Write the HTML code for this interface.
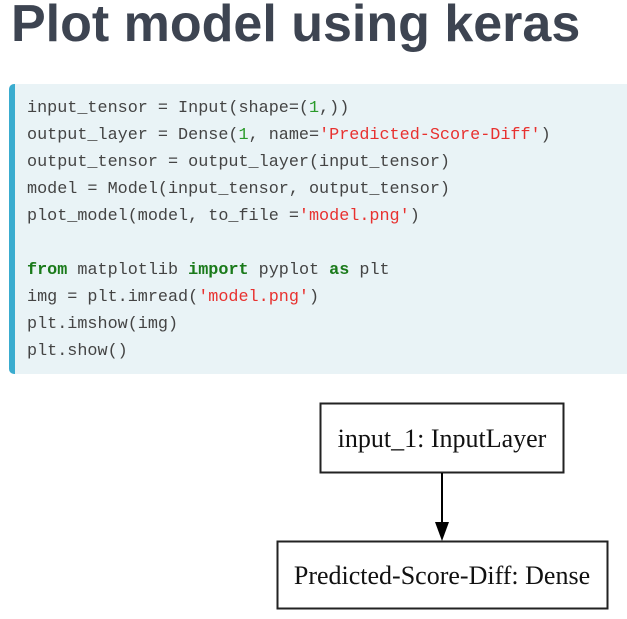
<!DOCTYPE html>
<html><head><style>
body{margin:0;width:627px;height:619px;background:#fff;position:relative;overflow:hidden}
h1{position:absolute;left:11px;top:-6px;margin:0;font:bold 52px "Liberation Sans",sans-serif;color:#3d4451;white-space:nowrap}
.code{position:absolute;left:9px;top:84px;width:640px;height:290px;background:#e9f3f6;border-left:6px solid #3aaccf;border-radius:5px;box-sizing:border-box}
pre{margin:0;position:absolute;left:12px;top:11px;font:16.8px/27px "Liberation Mono",monospace;color:#444}
.n{color:#2a9a2a}.s{color:#e8312f}.k{color:#1a7a1a;font-weight:bold}
</style></head><body>
<h1>Plot model using keras</h1>
<div class="code"><pre>input_tensor = Input(shape=(<span class="n">1</span>,))
output_layer = Dense(<span class="n">1</span>, name=<span class="s">'Predicted-Score-Diff'</span>)
output_tensor = output_layer(input_tensor)
model = Model(input_tensor, output_tensor)
plot_model(model, to_file =<span class="s">'model.png'</span>)

<span class="k">from</span> matplotlib <span class="k">import</span> pyplot <span class="k">as</span> plt
img = plt.imread(<span class="s">'model.png'</span>)
plt.imshow(img)
plt.show()</pre></div>
<svg style="position:absolute;left:0;top:0" width="627" height="619">
<rect x="320.5" y="403.5" width="243" height="69" fill="#fff" stroke="#222" stroke-width="2"/>
<text x="442" y="447" text-anchor="middle" font-family="Liberation Serif" font-size="26" fill="#111">input_1: InputLayer</text>
<line x1="442" y1="473" x2="442" y2="523" stroke="#000" stroke-width="2"/>
<polygon points="435,522 449,522 442,541" fill="#000"/>
<rect x="277.5" y="541.5" width="330" height="67" fill="#fff" stroke="#222" stroke-width="2"/>
<text x="442" y="584" text-anchor="middle" font-family="Liberation Serif" font-size="26" fill="#111">Predicted-Score-Diff: Dense</text>
</svg>
</body></html>
